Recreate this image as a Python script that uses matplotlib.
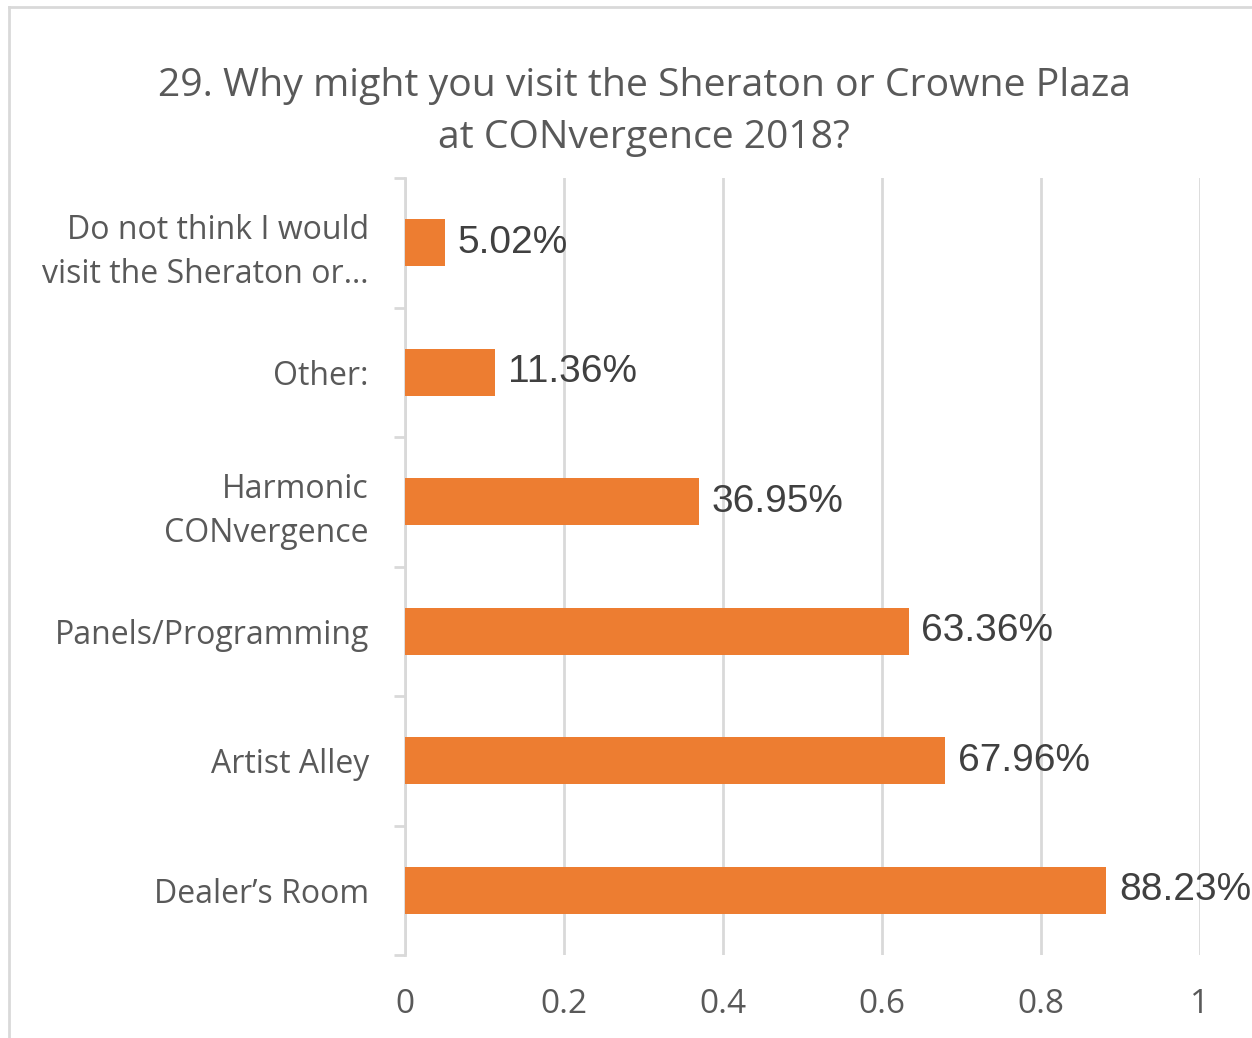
import numpy as np
import matplotlib.pyplot as plt

# valores
categorias = ["Dealer\u2019s Room", "Artist Alley", "Panels/Programming",
              "Harmonic\nCONvergence", "Other:",
              "Do not think I would\nvisit the Sheraton or\u2026"]
valores = [0.8823, 0.6796, 0.6336, 0.3695, 0.1136, 0.0502]
etiquetas = ["88.23%", "67.96%", "63.36%", "36.95%", "11.36%", "5.02%"]
ticks_x = [0, 0.2, 0.4, 0.6, 0.8, 1]
ticks_x_txt = ["0", "0.2", "0.4", "0.6", "0.8", "1"]

naranja = "#ED7D31"
gris_txt = "#595959"
gris_linea = "#D9D9D9"
fuente = ["Open Sans", "DejaVu Sans"]

fig = plt.figure(figsize=(12.52, 10.38), dpi=100)
ax = fig.add_axes([405/1252, 1-955/1038, 795/1252, 777/1038])

y = np.arange(len(categorias))
ax.barh(y, valores, height=0.36, color=naranja, zorder=3)

for i in range(len(valores)):
    ax.annotate(etiquetas[i], (valores[i], y[i]), xytext=(9, 0),
                textcoords="offset points", va="center", ha="left",
                fontsize=28, color="#404040", family="Liberation Sans")

ax.set_xlim(0, 1)
ax.set_ylim(-0.5, len(categorias) - 0.5)
ax.set_xticks(ticks_x)
ax.set_xticklabels(ticks_x_txt, fontsize=24, color=gris_txt, family=fuente)
ax.set_yticks(y)
ax.set_yticklabels(categorias, fontsize=23, color=gris_txt, family=fuente,
                   linespacing=1.45)
ax.tick_params(axis="y", length=0, pad=26)
ax.tick_params(axis="x", length=0, pad=24)

# marcas entre categorias
ax.set_yticks(np.arange(-0.5, len(categorias)), minor=True)
ax.tick_params(axis="y", which="minor", length=8, width=2, color=gris_linea)

ax.grid(axis="x", color=gris_linea, linewidth=2, zorder=0)
for s in ["top", "right", "bottom"]:
    ax.spines[s].set_visible(False)
ax.spines["left"].set_color(gris_linea)
ax.spines["left"].set_linewidth(2)

fig.text(644/1252, 1-112/1038,
         "29. Why might you visit the Sheraton or Crowne Plaza\nat CONvergence 2018?",
         ha="center", va="center", fontsize=28.2, color=gris_txt, family=fuente,
         linespacing=1.5)

# borde del area del grafico
fig.add_artist(plt.Line2D([9/1252, 9/1252], [0, 1-7/1038], color=gris_linea,
                          linewidth=2, transform=fig.transFigure))
fig.add_artist(plt.Line2D([9/1252, 1], [1-7/1038, 1-7/1038], color=gris_linea,
                          linewidth=2, transform=fig.transFigure))

fig.savefig("out.png", dpi=100)
